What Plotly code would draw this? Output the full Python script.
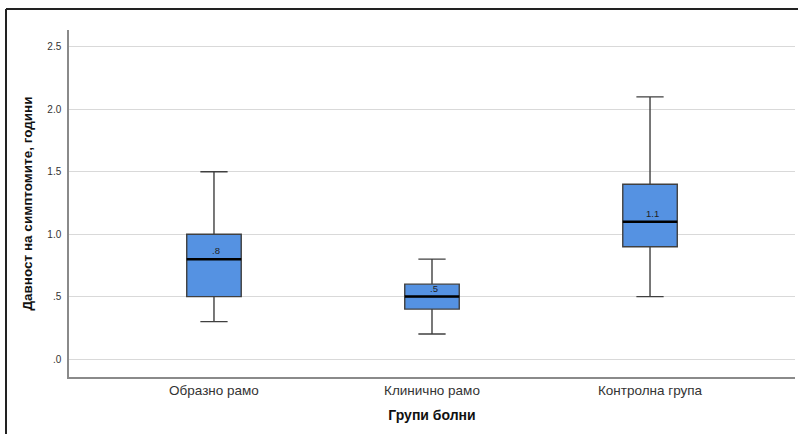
import plotly.graph_objects as go

# Summary statistics per patient group (symptom duration, years)
groups = ["Образно рамо", "Клинично рамо", "Контролна група"]
minimum = [0.3, 0.2, 0.5]
q1 = [0.5, 0.4, 0.9]
median = [0.8, 0.5, 1.1]
q3 = [1.0, 0.6, 1.4]
maximum = [1.5, 0.8, 2.1]

y_ticks = [0.0, 0.5, 1.0, 1.5, 2.0, 2.5]


def spss_fmt(v, digits=1):
    s = f"{v:.{digits}f}"
    if s.startswith("0."):
        s = s[1:]
    return s


positions = list(range(len(groups)))
box_w = 0.25
fill = "#5592E2"
edge = "#404040"
font = "Liberation Sans, Arial, sans-serif"

fig = go.Figure()
fig.add_trace(go.Box(
    x=positions,
    q1=q1, median=median, q3=q3,
    lowerfence=minimum, upperfence=maximum,
    width=box_w,
    whiskerwidth=0.5,
    fillcolor=fill,
    line=dict(color=edge, width=1.4),
    boxpoints=False,
    hoverinfo="skip",
    showlegend=False,
))

# thicker median bars
mx, my = [], []
for p, m in zip(positions, median):
    mx += [p - box_w / 2, p + box_w / 2, None]
    my += [m, m, None]
fig.add_trace(go.Scatter(x=mx, y=my, mode="lines",
                         line=dict(color="black", width=2.5),
                         hoverinfo="skip", showlegend=False))

for p, m in zip(positions, median):
    fig.add_annotation(x=p + 0.01, y=m, text=spss_fmt(m), showarrow=False,
                       yanchor="bottom", yshift=1,
                       font=dict(family=font, size=9.5, color="#222"))

W, H = 798, 434
L, R, T, B = 69, 3, 30, 57
pw, ph = W - L - R, H - T - B
bx = (6 - L) / pw
by = 1 + (T - 9) / ph

# outer frame (left and top edges)
fig.add_shape(type="line", xref="paper", yref="paper",
              x0=bx, x1=bx, y0=by, y1=-B / ph - 0.05,
              line=dict(color="#222", width=2))
fig.add_shape(type="line", xref="paper", yref="paper",
              x0=bx, x1=1 + R / pw + 0.05, y0=by, y1=by,
              line=dict(color="#222", width=2))

fig.update_layout(
    width=W, height=H,
    margin=dict(l=L, r=R, t=T, b=B),
    paper_bgcolor="white", plot_bgcolor="white",
    font=dict(family=font, color="#222"),
    xaxis=dict(
        range=[-0.665, 2.665],
        tickvals=positions, ticktext=groups,
        tickfont=dict(size=13.5, color="#333"),
        showgrid=False, zeroline=False,
        showline=True, linecolor="#8a8a8a", linewidth=1.5,
        ticks="",
        title=dict(text="<b>Групи болни</b>", font=dict(size=14, color="#111"), standoff=13),
    ),
    yaxis=dict(
        range=[-0.144, 2.636],
        tickvals=y_ticks, ticktext=[spss_fmt(v) for v in y_ticks],
        tickfont=dict(size=10, color="#333"),
        showgrid=True, gridcolor="#d9d9d9", gridwidth=1,
        zeroline=False,
        showline=True, linecolor="#8a8a8a", linewidth=1.5,
        ticks="", ticklabelstandoff=4,
        title=dict(text="<b>Давност на симптомите, години</b>", font=dict(size=13.5, color="#111"), standoff=12),
    ),
)

fig.write_html("out.html")
